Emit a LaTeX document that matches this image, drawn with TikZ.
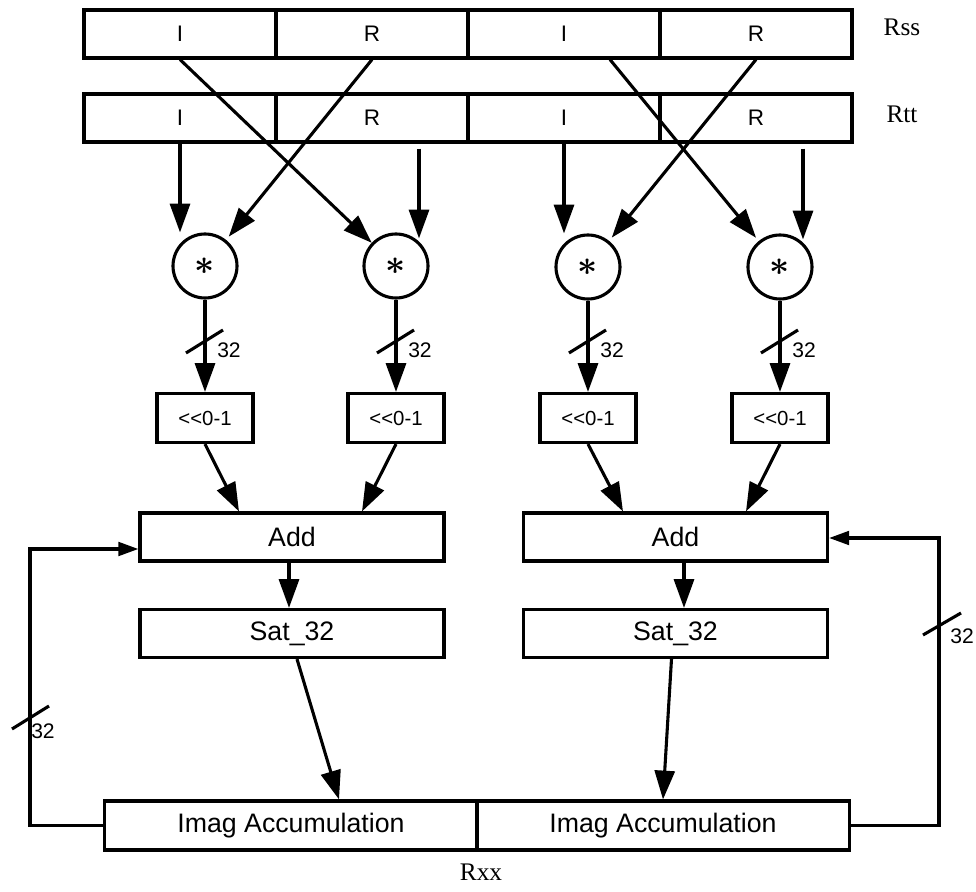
\documentclass[tikz,border=0pt]{standalone}
\usepackage{amsmath}
\usepackage{fontspec}
\setmainfont{Liberation Sans}
\newfontfamily\regfont{Liberation Serif}
\usetikzlibrary{arrows.meta}

\begin{document}
\begin{tikzpicture}[x=0.025cm, y=-0.025cm, line width=2.2pt,
    cell/.style={draw, minimum width=4.8cm, minimum height=1.2cm,
      inner sep=0pt, font=\fontsize{16}{18}\selectfont},
    mult/.style={draw, circle, minimum size=1.6cm, inner sep=0pt},
    shiftbox/.style={draw, minimum width=2.4cm, minimum height=1.225cm,
      inner sep=0pt, font=\fontsize{14.5}{16}\selectfont},
    opbox/.style={draw, minimum width=7.6cm, minimum height=1.2cm,
      inner sep=0pt, font=\fontsize{19}{22}\selectfont},
    accbox/.style={opbox, minimum width=9.3cm, minimum height=1.225cm},
    arrow/.style={-{Triangle[length=0.72cm, width=0.5cm]}},
    fbarrow/.style={-{Triangle[length=0.5cm, width=0.34cm]}},
    buslabel/.style={font=\fontsize{15}{16}\selectfont, inner sep=0pt},
    reglabel/.style={font=\regfont\fontsize{18}{20}\selectfont, inner sep=0pt}]

  % picture measured in pixels: x to the right, y downwards
  \useasboundingbox (0,0) rectangle (976,892);

  % === Source registers ===
  \node[cell] (rss1) at (180,34) {I};
  \node[cell] (rss2) at (372,34) {R};
  \node[cell] (rss3) at (564,34) {I};
  \node[cell] (rss4) at (756,34) {R};
  \node[reglabel] (rsslabel) at (902,27) {Rss};

  \node[cell] (rtt1) at (180,118) {I};
  \node[cell] (rtt2) at (372,118) {R};
  \node[cell] (rtt3) at (564,118) {I};
  \node[cell] (rtt4) at (756,118) {R};
  \node[reglabel] (rttlabel) at (902,114) {Rtt};

  % === Multipliers ===
  \node[mult] (m1) at (205,266) {\fontsize{29}{29}\selectfont$\boldsymbol{\ast}$};
  \node[mult] (m2) at (396,266) {\fontsize{29}{29}\selectfont$\boldsymbol{\ast}$};
  \node[mult] (m3) at (588,267) {\fontsize{29}{29}\selectfont$\boldsymbol{\ast}$};
  \node[mult] (m4) at (780,267) {\fontsize{29}{29}\selectfont$\boldsymbol{\ast}$};

  % taps that do not sit on a cell centre
  \coordinate (tap2) at ([shift={(47,5)}]rtt2.south);
  \coordinate (tap3) at ([shift={(46,0)}]rss3.south);
  \coordinate (tap4) at ([shift={(47,5)}]rtt4.south);

  % --- Inputs of the multipliers ---
  \draw[arrow] (rtt1.south) -- (rtt1.south |- m1.north);
  \draw[arrow, shorten >=3pt] (rss2.south) -- (m1);
  \draw[arrow] (rss1.south) -- (m2);
  \draw[arrow] (tap2) -- ([yshift=-0.15cm]tap2 |- m2.north);
  \draw[arrow] (rtt3.south) -- (rtt3.south |- m3.north);
  \draw[arrow, shorten >=3pt] (rss4.south) -- (m3);
  \draw[arrow, shorten >=3pt] (tap3) -- (m4);
  \draw[arrow] (tap4) -- ([yshift=-0.15cm]tap4 |- m4.north);

  % === Shifters ===
  \node[shiftbox] (s1) at (205,418) {<{}<0-1};
  \node[shiftbox] (s2) at (396,418) {<{}<0-1};
  \node[shiftbox] (s3) at (588,418) {<{}<0-1};
  \node[shiftbox] (s4) at (780,418) {<{}<0-1};

  \draw[arrow] (m1.south) -- (s1.north);
  \draw[arrow] (m2.south) -- (s2.north);
  \draw[arrow] (m3.south) -- (s3.north);
  \draw[arrow] (m4.south) -- (s4.north);

  % bus width marks
  \coordinate (b1) at (205,341);
  \coordinate (b2) at (396,341);
  \coordinate (b3) at (588,341);
  \coordinate (b4) at (780,341);
  \draw ([shift={(-19,12)}]b1) -- ([shift={(18,-11)}]b1);
  \draw ([shift={(-19,12)}]b2) -- ([shift={(18,-11)}]b2);
  \draw ([shift={(-19,12)}]b3) -- ([shift={(18,-11)}]b3);
  \draw ([shift={(-19,12)}]b4) -- ([shift={(18,-11)}]b4);
  \node[buslabel] (w1) at ([shift={(24,9)}]b1) {32};
  \node[buslabel] (w2) at ([shift={(24,9)}]b2) {32};
  \node[buslabel] (w3) at ([shift={(24,9)}]b3) {32};
  \node[buslabel] (w4) at ([shift={(24,9)}]b4) {32};

  % === Adders and saturation ===
  \node[opbox] (add1) at (292,537) {Add};
  \node[opbox] (add2) at (675.5,537) {Add};
  \node[opbox] (sat1) at (292,633.5) {Sat\_32};
  \node[opbox] (sat2) at (675.5,633.5) {Sat\_32};

  \draw[arrow] (s1.south) -- ([shift={(-53,0)}]add1.north);
  \draw[arrow] (s2.south) -- ([shift={(70,0)}]add1.north);
  \draw[arrow] (s3.south) -- ([shift={(-52.5,0)}]add2.north);
  \draw[arrow] (s4.south) -- ([shift={(70.5,0)}]add2.north);

  \draw[arrow] ([shift={(-3,0)}]add1.south) -- ([shift={(-3,0)}]sat1.north);
  \draw[arrow] ([shift={(8.5,0)}]add2.south) -- ([shift={(8.5,0)}]sat2.north);

  % === Accumulator ===
  \node[accbox] (acc1) at (291,825.5) {Imag Accumulation};
  \node[accbox] (acc2) at (663,825.5) {Imag Accumulation};
  \node[reglabel] (rxxlabel) at (481,872) {Rxx};

  \draw[arrow] ([shift={(5,0)}]sat1.south) -- ([shift={(48,0)}]acc1.north);
  \draw[arrow] ([shift={(-4,0)}]sat2.south) -- (acc2.north);

  % --- Feedback paths ---
  \coordinate (fbl) at (30,549);
  \coordinate (fbr) at (939,538);
  \draw[fbarrow] (acc1.west) -| (fbl) -- (fbl -| add1.west);
  \draw[fbarrow] (acc2.east) -| (fbr) -- (fbr -| add2.east);

  \coordinate (b5) at (30,717);
  \coordinate (b6) at (941,624);
  \draw ([shift={(-18,12)}]b5) -- ([shift={(19,-11)}]b5);
  \draw ([shift={(-18,11)}]b6) -- ([shift={(20,-11)}]b6);
  \node[buslabel] (w5) at (43,731) {32};
  \node[buslabel] (w6) at (962,636) {32};

\end{tikzpicture}
\end{document}
